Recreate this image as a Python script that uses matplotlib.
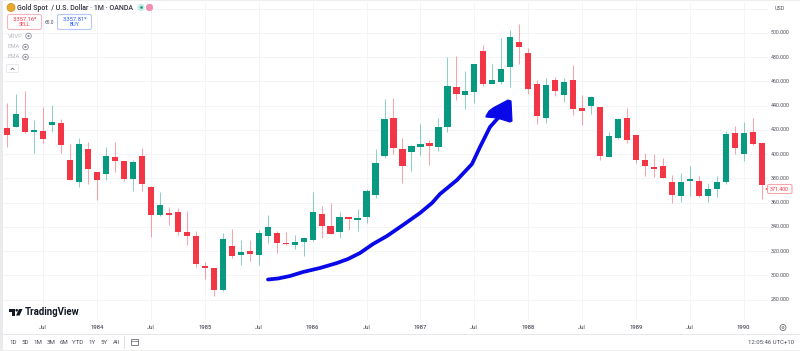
#!/usr/bin/env python3
# Gold Spot monthly candles, TradingView screenshot look
import matplotlib
matplotlib.use('Agg')
import matplotlib.pyplot as plt
from matplotlib.patches import Circle, FancyBboxPatch, Polygon, Rectangle

plt.rcParams['font.family'] = ['Roboto', 'DejaVu Sans']

# monthly candles, first one is Mar 1983
opens = [421.3, 422.4, 429.8, 418.0, 418.8, 424.3, 425.7, 395.5, 377.3, 404.5,
         385.0, 383.7, 397.7, 394.1, 379.5, 398.8, 372.9, 349.9, 351.5, 352.0,
         335.9, 332.6, 307.6, 305.9, 288.0, 324.6, 317.2, 320.0, 316.9, 332.6,
         335.0, 326.8, 325.4, 327.6, 329.3, 350.7, 340.5, 335.6, 348.0, 346.0,
         347.9, 366.6, 398.8, 429.5, 404.5, 401.5, 405.9, 409.2, 406.2, 422.1,
         455.1, 448.8, 451.0, 485.3, 458.1, 459.5, 471.6, 492.7, 483.4, 457.8,
         430.1, 460.9, 449.0, 460.8, 437.8, 439.4, 438.6, 397.9, 413.0, 429.5,
         415.5, 395.4, 389.7, 389.9, 377.3, 365.8, 378.1, 378.1, 365.5, 371.0,
         377.3, 417.7, 400.4, 418.0, 408.9]
highs = [442.0, 450.0, 452.0, 428.2, 438.6, 440.5, 428.7, 408.4, 413.6, 409.8,
         385.3, 405.6, 410.0, 394.4, 395.2, 404.8, 373.8, 368.9, 356.2, 355.4,
         353.5, 336.7, 310.9, 305.9, 335.0, 338.6, 329.6, 329.3, 337.5, 350.2,
         336.4, 335.6, 333.1, 332.0, 369.1, 357.3, 359.5, 352.1, 348.0, 354.6,
         371.3, 404.0, 445.8, 446.3, 413.6, 407.6, 424.9, 411.7, 429.5, 479.8,
         480.9, 468.6, 474.6, 489.7, 474.0, 495.5, 502.4, 507.0, 487.5, 461.1,
         462.5, 463.3, 462.5, 473.5, 448.7, 447.9, 438.9, 418.5, 429.0, 437.8,
         416.0, 400.7, 399.8, 396.5, 382.5, 384.2, 390.2, 382.0, 375.9, 381.7,
         419.3, 423.5, 426.5, 429.5, 409.4]
lows = [406.0, 422.0, 417.7, 400.7, 409.5, 418.5, 400.7, 378.7, 373.2, 375.7,
        362.5, 379.0, 385.3, 377.6, 369.6, 370.0, 332.0, 349.3, 341.6, 333.4,
        325.2, 306.7, 297.1, 283.1, 287.5, 314.7, 308.9, 312.2, 308.7, 326.5,
        318.3, 325.2, 322.1, 315.8, 328.7, 331.2, 334.2, 330.9, 337.5, 336.7,
        343.5, 364.1, 397.1, 399.9, 376.5, 386.4, 399.0, 391.3, 402.9, 418.5,
        444.6, 437.0, 442.4, 456.5, 457.6, 457.8, 455.6, 474.6, 449.9, 425.1,
        426.0, 447.9, 443.3, 432.3, 424.0, 432.8, 395.2, 397.4, 412.5, 409.4,
        393.0, 382.0, 381.4, 380.0, 360.0, 360.3, 365.5, 364.9, 360.3, 364.4,
        375.4, 400.1, 394.3, 407.8, 362.7]
closes = [415.8, 432.8, 418.0, 419.6, 412.2, 426.5, 407.6, 378.5, 408.4, 387.5,
          379.0, 398.5, 394.1, 379.3, 393.5, 375.7, 350.2, 357.9, 349.6, 335.6,
          332.9, 309.5, 306.2, 288.3, 329.8, 316.1, 319.7, 317.7, 335.0, 339.7,
          327.1, 325.7, 327.4, 330.9, 352.6, 340.5, 334.2, 348.0, 346.6, 347.4,
          369.6, 393.0, 429.3, 405.3, 390.5, 406.7, 408.7, 407.0, 422.4, 456.2,
          449.6, 451.8, 474.6, 458.1, 461.4, 470.2, 496.3, 488.0, 453.7, 431.7,
          457.3, 452.1, 459.2, 437.5, 435.3, 446.8, 398.7, 414.7, 429.0, 411.6,
          395.4, 389.9, 387.7, 380.0, 366.3, 377.0, 379.5, 365.2, 371.5, 377.0,
          416.9, 404.8, 417.4, 408.4, 374.5]

x_tick_labels = ['Jul', '1984', 'Jul', '1985', 'Jul', '1986', 'Jul', '1987', 'Jul',
                 '1988', 'Jul', '1989', 'Jul', '1990']
x_tick_months = [4, 10, 16, 22, 28, 34, 40, 46, 52, 58, 64, 70, 76, 82]
y_ticks = [280, 300, 320, 340, 360, 380, 400, 420, 440, 460, 480, 500]
range_buttons = ['1D', '5D', '1M', '3M', '6M', 'YTD', '1Y', '5Y', 'All']
range_button_x = [13, 25.5, 38, 51, 64, 78, 92, 104, 116]

# hand drawn arrow, in screen pixels
arrow_x = [268, 278, 290, 303, 320, 337, 348, 360, 373, 387, 403, 420, 432, 440, 457, 472, 480, 490, 498]
arrow_y = [279.5, 278.5, 276, 272, 268, 263, 259, 253, 244, 236, 225, 213, 203, 194, 180, 164, 147, 127, 118]
arrow_head_x = [486, 489, 493, 508, 511, 512, 510, 497, 486]
arrow_head_y = [116, 111, 108, 100, 101, 121, 122, 118, 117]

GREEN = '#089981'
RED = '#F23645'
GRID = '#f3f4f6'
TEXT = '#4a4e59'

W, H = 800, 351
fig = plt.figure(figsize=(W / 100, H / 100), dpi=100, facecolor='white')

# chart pane, pixel box 3..768 x 3..320
ax = fig.add_axes([3 / W, 1 - 320 / H, 765 / W, 317 / H])
ax.set_xlim(-0.48, 84.7)
ax.set_ylim(263.3, 524.6)
for s in ax.spines.values():
    s.set_visible(False)
ax.set_xticks(x_tick_months)
ax.set_yticks(y_ticks + [520])
ax.tick_params(length=0, labelbottom=False, labelleft=False)
ax.grid(True, color=GRID, lw=0.7, zorder=0)
ax.set_axisbelow(True)

months = list(range(len(opens)))
colors = [GREEN if c >= o else RED for o, c in zip(opens, closes)]
ax.vlines(months, lows, highs, colors=colors, lw=0.75, alpha=0.45, zorder=2)
ax.bar(months, [c - o for o, c in zip(opens, closes)], bottom=opens, width=0.7,
       color=colors, lw=0, zorder=3)

# overlay in screen pixels for the TradingView chrome
ui = fig.add_axes([0, 0, 1, 1], facecolor='none')
ui.set_xlim(0, W)
ui.set_ylim(H, 0)
ui.axis('off')

ui.add_patch(Rectangle((0, 0), 2.5, H, color='#e9eaec', lw=0))
ui.add_patch(Rectangle((0, 0), W, 1.2, color='#eeeeef', lw=0))
ui.add_patch(Rectangle((0, 350), W, 1, color='#eeeeef', lw=0))
ui.plot([3, W], [333.5, 333.5], color='#e6e7ea', lw=0.7)
ui.plot([124, 124], [336, 348], color='#e0e1e5', lw=0.7)

# header
ui.add_patch(Circle((11, 7.5), 4, fc='#E8A92C', ec='#C98A14', lw=0.5))
ui.text(17, 8, 'Gold Spot  / U.S. Dollar · 1M · OANDA', fontsize=5.0, color='#33363f',
        fontweight='medium', va='center', ha='left')
ui.add_patch(FancyBboxPatch((137.5, 4), 7, 7, boxstyle='round,pad=0,rounding_size=3',
                            fc='#c9ece7', lw=0))
ui.add_patch(Circle((141.5, 7.5), 1.3, color=GREEN, lw=0))
ui.add_patch(FancyBboxPatch((146, 4), 7, 7, boxstyle='round,pad=0,rounding_size=3',
                            fc='#f58fb0', lw=0))

ui.add_patch(FancyBboxPatch((7.5, 14.5), 34, 15, boxstyle='round,pad=0,rounding_size=2',
                            fc='white', ec='#f7b6bc', lw=0.8))
ui.text(24.5, 19, '3,357.16⁹', fontsize=4.2, color=RED, ha='center', va='center')
ui.text(24.5, 25, 'SELL', fontsize=3.8, color=RED, ha='center', va='center')
ui.text(49.5, 22, '65.0', fontsize=3.5, color=TEXT, ha='center', va='center')
ui.add_patch(FancyBboxPatch((57.5, 14.5), 34, 15, boxstyle='round,pad=0,rounding_size=2',
                            fc='white', ec='#b6c8fa', lw=0.8))
ui.text(74.5, 19, '3,357.81⁹', fontsize=4.2, color='#2962FF', ha='center', va='center')
ui.text(74.5, 25, 'BUY', fontsize=3.8, color='#2962FF', ha='center', va='center')

for label, lx, ly, ex in [('VRVP', 7.5, 36, 28.5), ('EMA', 7.5, 47, 25.5), ('EMA', 7.5, 57, 25.5)]:
    ui.text(lx, ly, label, fontsize=4.2, color='#b9bbc2', va='center', ha='left')
    ui.add_patch(Circle((ex, ly), 2.8, fc='none', ec='#8b8e97', lw=0.6))
    ui.add_patch(Circle((ex, ly), 1.1, fc='#8b8e97', lw=0))
ui.add_patch(FancyBboxPatch((6.5, 64.5), 12, 8, boxstyle='round,pad=0,rounding_size=1',
                            fc='white', ec='#e6e7ea', lw=0.6))
ui.plot([11, 12.5, 14], [69.5, 68, 69.5], color='#555', lw=0.5)

# price axis
ui.text(775, 8, 'USD', fontsize=3.9, color=TEXT, ha='left', va='center')
for p in y_ticks:
    py = 202.7 - (p - 360) * 1.213
    ui.text(771, py, f'{p}.000', fontsize=3.8, color=TEXT, ha='left', va='center')
ui.add_patch(FancyBboxPatch((767.5, 184.5), 24.5, 9, boxstyle='round,pad=0,rounding_size=1.5',
                            fc='white', ec='#f7a5ad', lw=0.8))
ui.text(779.7, 189.2, '371.400', fontsize=3.8, color=RED, ha='center', va='center')
ui.add_patch(Circle((766.5, 189), 0.8, color=RED, lw=0))

# time axis
for m, label in zip(x_tick_months, x_tick_labels):
    weight = 'normal' if label == 'Jul' else 'medium'
    ui.text(7.3 + 8.98 * m, 327.5, label, fontsize=4.2, color=TEXT, fontweight=weight,
            ha='center', va='center')
ui.add_patch(Circle((783, 327.5), 3, fc='none', ec='#6a6d78', lw=0.6))
ui.add_patch(Circle((783, 327.5), 1, fc='none', ec='#6a6d78', lw=0.5))

# logo
ui.add_patch(Polygon([(9, 309), (15, 309), (15, 315.5), (12.3, 315.5), (12.3, 311.5), (9, 311.5)],
                     color='#131722', lw=0))
ui.add_patch(Circle((16.7, 310.3), 1.3, color='#131722', lw=0))
ui.add_patch(Polygon([(19, 309), (22.5, 309), (19.6, 315.5), (16, 315.5)], color='#131722', lw=0))
ui.text(25, 312, 'TradingView', fontsize=6.9, fontweight='bold', color='#131722',
        ha='left', va='center')

# range toolbar
for label, bx in zip(range_buttons, range_button_x):
    ui.text(bx, 342, label, fontsize=4.4, color=TEXT, ha='center', va='center')
ui.add_patch(Rectangle((131, 338.5), 7, 6.5, fc='none', ec='#6a6d78', lw=0.6))
ui.plot([131, 138], [340.5, 340.5], color='#6a6d78', lw=0.5)
ui.text(794, 342, '12:05:46 UTC+10', fontsize=4.3, color=TEXT, ha='right', va='center')

# blue arrow
ui.plot(arrow_x, arrow_y, color='#0808E8', lw=2.7, solid_capstyle='round',
        solid_joinstyle='round', zorder=5)
ui.add_patch(Polygon(list(zip(arrow_head_x, arrow_head_y)), closed=True, fc='#0808E8',
                     ec='#0808E8', lw=0.8, joinstyle='round', zorder=5))

fig.savefig('out.png', dpi=100, facecolor='white')
